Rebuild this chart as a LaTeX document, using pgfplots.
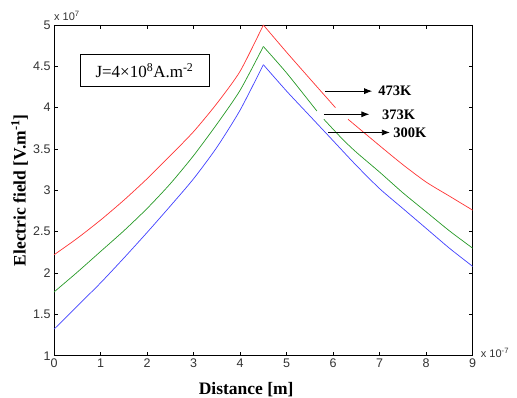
\documentclass[border=0pt]{standalone}
\usepackage{fontspec}
\setmainfont{Liberation Serif}
\setsansfont{Liberation Sans}
\usepackage{pgfplots}
\pgfplotsset{compat=1.18}
\usetikzlibrary{arrows.meta}

\definecolor{mred}{rgb}{1,0.2,0.2}
\definecolor{mgreen}{rgb}{0.15,0.6,0.15}
\definecolor{mblue}{rgb}{0.25,0.25,1}

\begin{document}
\begin{tikzpicture}
\useasboundingbox (-54bp,-42.3bp) rectangle (463bp,355.7bp);
\begin{axis}[
  at={(0,0)}, anchor=south west,
  width=418.7bp, height=330.7bp, scale only axis,
  xmin=0, xmax=9, ymin=1, ymax=5,
  xtick={0,1,...,9},
  ytick={1,1.5,...,5},
  tick align=inside,
  major tick length=4bp,
  axis line style={line width=0.8bp},
  every tick/.style={line width=0.6bp, black},
  /pgf/number format/assume math mode=true,
  ticklabel style={font=\sffamily\fontsize{12.5bp}{14bp}\selectfont, text=black!80},
  xlabel={Distance [m]},
  ylabel={Electric field [V.m\textsuperscript{-1}]},
  xlabel style={font=\bfseries\fontsize{17.5bp}{20bp}\selectfont,
    at={(axis description cs:0.459,-0.102)}, anchor=center},
  ylabel style={font=\bfseries\fontsize{17.5bp}{20bp}\selectfont,
    at={(axis description cs:-0.082,0.5)}, anchor=center, rotate=0},
  unbounded coords=jump,
  clip=false,
  every axis plot/.append style={line width=0.7bp, smooth, tension=0.4},
]

% 473 K: rising branch, then falling branch
\addplot[mred] coordinates {
  (0,2.22) (0.5,2.42) (1,2.64) (1.5,2.88) (2,3.14) (2.5,3.42) (3,3.71)
  (3.5,4.05) (4,4.44) (4.5,5.00)
};
\addplot[mred] coordinates {
  (4.5,5.00) (5,4.67) (5.5,4.35) (6.05,4.00)
  (6.18,nan)
  (6.32,3.86) (7,3.54) (7.5,3.31) (8,3.10) (8.5,2.93) (9,2.76)
};
% 373 K
\addplot[mgreen] coordinates {
  (0,1.77) (0.5,2.01) (1,2.26) (1.5,2.51) (2,2.78) (2.5,3.08) (3,3.42)
  (3.5,3.80) (4,4.21) (4.5,4.74)
};
\addplot[mgreen] coordinates {
  (4.5,4.74) (5,4.42) (5.65,3.96)
  (5.72,nan)
  (5.8,3.86) (6.2,3.62) (6.5,3.46) (7,3.22) (7.5,2.97) (8,2.74) (8.5,2.51) (9,2.30)
};
% 300 K
\addplot[mblue] coordinates {
  (0,1.32) (0.5,1.60) (1,1.88) (1.5,2.18) (2,2.49) (2.5,2.81) (3,3.14)
  (3.5,3.52) (4,3.97) (4.5,4.52)
};
\addplot[mblue] coordinates {
  (4.5,4.52) (5,4.20) (5.5,3.90) (6,3.60) (6.5,3.30)
  (7,3.02) (7.5,2.78) (8,2.54) (8.5,2.30) (9,2.08)
};

% current density box
\node[draw=black, line width=0.6bp, minimum width=129bp, minimum height=31.7bp,
      inner sep=0pt, font=\fontsize{17bp}{19bp}\selectfont]
  at (axis cs:1.945,4.45) {J=4×10\textsuperscript{8}A.m\textsuperscript{-2}};

% temperature annotations
\begin{scope}[line width=0.8bp, -{Latex[length=8bp,width=6bp]}]
  \draw (axis cs:5.83,4.20) -- (axis cs:6.84,4.20);
  \draw (axis cs:5.80,3.92) -- (axis cs:6.78,3.92);
  \draw (axis cs:5.89,3.70) -- (axis cs:7.22,3.70);
\end{scope}
\begin{scope}[font=\bfseries\fontsize{14.5bp}{16bp}\selectfont, inner sep=0pt]
  \node[anchor=west] at (axis cs:6.97,4.20) {473K};
  \node[anchor=west] at (axis cs:7.05,3.92) {373K};
  \node[anchor=west] at (axis cs:7.29,3.70) {300K};
\end{scope}

% axis multipliers
\node[anchor=south west, inner sep=0pt, text=black!80, font=\sffamily\fontsize{11bp}{12bp}\selectfont]
  at (rel axis cs:0,1) [yshift=4bp] {x 10\textsuperscript{7}};
\node[anchor=west, inner sep=0pt, text=black!80, font=\sffamily\fontsize{11bp}{12bp}\selectfont]
  at (rel axis cs:1,0) [xshift=8bp, yshift=3bp] {x 10\textsuperscript{-7}};
\end{axis}
\end{tikzpicture}
\end{document}
